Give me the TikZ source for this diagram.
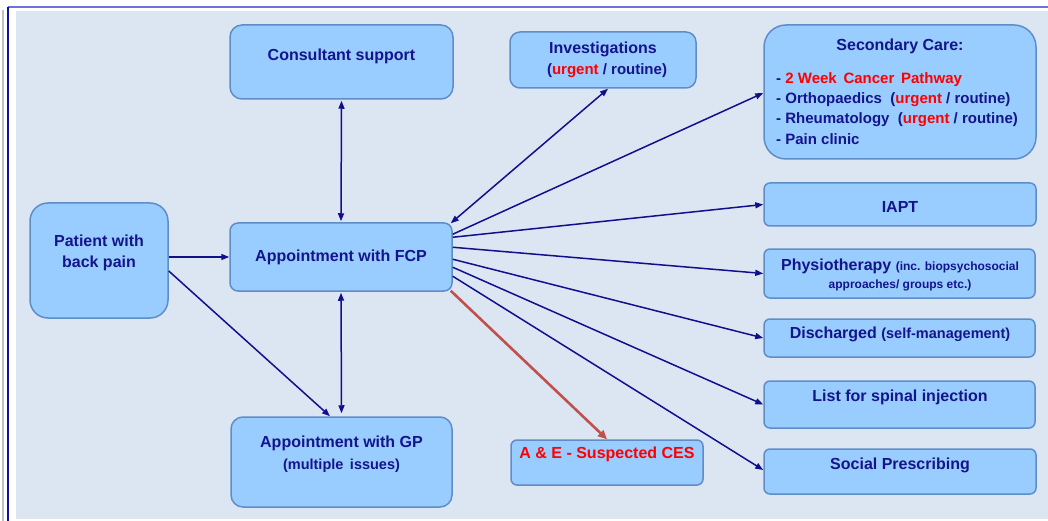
\documentclass[tikz,border=0pt]{standalone}
\usepackage{fontspec}
\setmainfont{Liberation Sans}
\usetikzlibrary{arrows.meta,calc}
\definecolor{bgc}{HTML}{DCE6F2}
\definecolor{boxfill}{HTML}{99CCFF}
\definecolor{boxline}{HTML}{5F8DC8}
\definecolor{navy}{HTML}{14148C}
\definecolor{arrc}{HTML}{10108C}
\definecolor{redarr}{HTML}{C0504D}
\definecolor{frameblue}{HTML}{7070D8}
\definecolor{framedark}{HTML}{1010A0}
\definecolor{framegrey}{HTML}{C0C0C0}
\tikzset{
  box/.style={draw=boxline, line width=1.5pt, fill=boxfill, rounded corners=#1, inner sep=0pt},
  box/.default=7pt,
  txt/.style={text=navy, font=\bfseries\fontsize{16}{19}\selectfont, inner sep=0pt, align=center, yshift=-1.5pt},
  arr/.style={draw=arrc, line width=1.5pt, -{Triangle[length=8pt,width=6pt]}},
  darr/.style={draw=arrc, line width=1.5pt, {Triangle[length=8pt,width=6pt]}-{Triangle[length=8pt,width=6pt]}},
  rarr/.style={draw=redarr, line width=2.6pt, -{Triangle[length=9pt,width=8pt]}},
}
\newcommand{\urg}{\textcolor{red}{urgent}}
\newcommand{\hsp}{\hspace{0.45em}}
\begin{document}
\begin{tikzpicture}[x=1pt,y=-1pt]
\useasboundingbox (0,0) rectangle (1048,521);
\fill[white] (0,0) rectangle (1048,521);
\fill[bgc] (16,11) rectangle (1048,519);
\draw[framegrey, line width=1.5pt] (3,10) -- (3,521);
\draw[frameblue, line width=1.5pt] (8,7) -- (1048,7);
\draw[framedark, line width=1.5pt] (8,7) -- (8,521);

% boxes
\node[box=12pt, minimum width=223pt, minimum height=74pt] (cons) at (341.5,62) {};
\node[box=18pt, minimum width=138pt, minimum height=115pt] (pat) at (99,260.5) {};
\node[box=8pt, minimum width=222pt, minimum height=68pt] (fcp) at (341,257) {};
\node[box=12pt, minimum width=221pt, minimum height=90pt] (gp) at (341.5,462) {};
\node[box=10pt, minimum width=186pt, minimum height=56pt] (inv) at (603,60) {};
\node[box=22pt, minimum width=272pt, minimum height=134pt] (sec) at (900,92) {};
\node[box=6pt, minimum width=272pt, minimum height=43pt] (iapt) at (900,204.5) {};
\node[box=6pt, minimum width=271pt, minimum height=49pt] (phys) at (899.5,273.5) {};
\node[box=6pt, minimum width=271pt, minimum height=38pt] (disc) at (899.5,338) {};
\node[box=6pt, minimum width=271pt, minimum height=47pt] (list) at (899.5,404.5) {};
\node[box=6pt, minimum width=192pt, minimum height=45pt] (ae) at (607,462.5) {};
\node[box=6pt, minimum width=272pt, minimum height=45pt] (soc) at (900,471.5) {};

% texts
\node[txt] (tcons) at (341.5,55) {Consultant support};
\node[txt, font=\bfseries\fontsize{16}{21}\selectfont] (tpat) at (99,251.5) {Patient with\\back pain};
\node[txt] (tfcp) at (341,256) {Appointment with FCP};
\node[txt] (tgp1) at (341.5,442) {Appointment with GP};
\node[txt, font=\bfseries\fontsize{14.5}{17}\selectfont] (tgp2) at (341.5,464) {(multiple\hsp issues)};
\node[txt] (tinv1) at (603,48) {Investigations};
\node[txt, font=\bfseries\fontsize{15}{17}\selectfont] (tinv2) at (607,69) {(\urg{} / routine)};
\node[txt] (tsec) at (900,45) {Secondary Care:};
\node[txt, font=\bfseries\fontsize{15}{20.2}\selectfont, align=left, anchor=north west] (tseclist) at (776,71)
  {- \textcolor{red}{2 Week\hsp Cancer\hsp Pathway}\\
   - Orthopaedics\ \ (\urg{} / routine)\\
   - Rheumatology\ \ (\urg{} / routine)\\
   - Pain clinic};
\node[txt] (tiapt) at (900,205) {IAPT};
\node[txt] (tphys1) at (900,265) {Physiotherapy {\fontsize{12}{14}\selectfont (inc. biopsychosocial}};
\node[txt, font=\bfseries\fontsize{12}{14}\selectfont] (tphys2) at (900,284) {approaches/ groups etc.)};
\node[txt] (tdisc) at (900,333) {Discharged {\fontsize{14.5}{17}\selectfont (self-management)}};
\node[txt] (tlist) at (900,396) {List for spinal injection};
\node[txt, text=red] (tae) at (607,453) {A \& E - Suspected CES};
\node[txt] (tsoc) at (900,464) {Social Prescribing};

% connectors
\draw[arr] (pat.east |- fcp.west) -- (fcp.west);
\draw[arr] ([yshift=-10.5pt]pat.east) -- ([xshift=-11.5pt]gp.north);
\draw[darr] ([yshift=-1pt]cons.south) -- ([yshift=1pt]fcp.north);
\draw[darr] ([yshift=-1pt]fcp.south) -- ([yshift=3pt]gp.north);
\draw[darr] ([xshift=-2pt,yshift=-1pt]fcp.north east) -- ([xshift=5pt]inv.south);
\draw[arr] ([yshift=-12pt]fcp.north east) -- ([yshift=-1pt]sec.west);
\draw[arr] ([yshift=-15pt]fcp.north east) -- (iapt.west);
\draw[arr] ([yshift=-25pt]fcp.north east) -- (phys.west);
\draw[arr] ([yshift=-37pt]fcp.north east) -- (disc.west);
\draw[arr] ([yshift=-45pt]fcp.north east) -- (list.west);
\draw[arr] ([yshift=-54pt]fcp.north east) -- ([yshift=1.5pt]soc.west);
\draw[rarr] ([xshift=-2pt,yshift=1pt]fcp.south east) -- (ae.north);
\end{tikzpicture}
\end{document}
